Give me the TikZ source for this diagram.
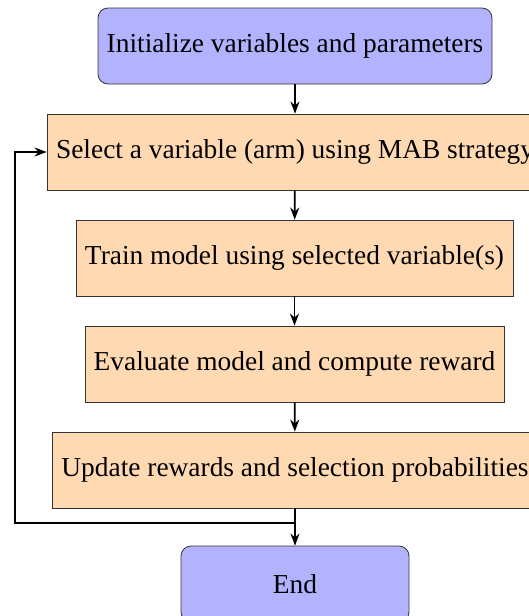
\documentclass[tikz,border=0pt]{standalone}
\usepackage{fontspec}
\setmainfont{Liberation Serif}
\newfontfamily\tnr{Liberation Serif}
\usetikzlibrary{arrows.meta}
\begin{document}
\begin{tikzpicture}[x=0.5pt,y=-0.5pt,
  startstop/.style={draw=black!80, fill=blue!30, rounded corners=5pt, minimum height=38pt, inner xsep=4pt, font=\tnr\fontsize{13.7}{16}\selectfont},
  process/.style={draw=black!80, fill=orange!30, minimum height=38pt, inner xsep=4pt, font=\tnr\fontsize{13.7}{16}\selectfont},
  arr/.style={-{Stealth[length=6pt,width=4.5pt]}, line width=0.9pt}]
\useasboundingbox (0,0) rectangle (529,616);
\node[startstop, minimum width=197pt] (init) at (295,46) {Initialize variables and parameters};
\node[process, minimum width=248pt] (sel) at (295,152) {Select a variable (arm) using MAB strategy};
\node[process, minimum width=218.5pt] (train) at (294.5,258) {Train model using selected variable(s)};
\node[process, minimum width=209.5pt] (eval) at (294.5,364) {Evaluate model and compute reward};
\node[process, minimum width=243pt] (upd) at (295,470) {Update rewards and selection probabilities};
\node[startstop, minimum width=114pt] (end) at (295,584) {End};
\coordinate (j) at (295,523);
\coordinate (l1) at (15,523);
\draw[arr] (init) -- (sel);
\draw[arr] (sel) -- (train);
\draw[arr] (train) -- (eval);
\draw[arr] (eval) -- (upd);
\draw[arr] (upd) -- (end);
\draw[arr] (j) -- (l1) |- (sel.west);
\end{tikzpicture}
\end{document}
